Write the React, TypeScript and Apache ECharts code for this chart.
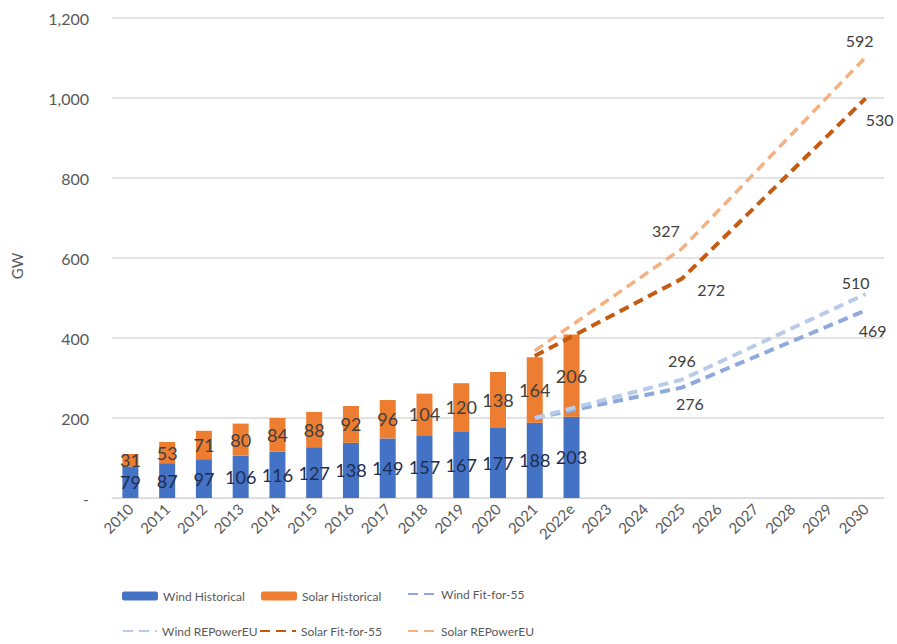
import React, { useEffect, useRef } from "react";
import * as echarts from "echarts";

const years = [
  "2010", "2011", "2012", "2013", "2014", "2015", "2016", "2017", "2018", "2019",
  "2020", "2021", "2022e", "2023", "2024", "2025", "2026", "2027", "2028", "2029", "2030",
];
const windHistorical = [79, 87, 97, 106, 116, 127, 138, 149, 157, 167, 177, 188, 203];
const solarHistorical = [31, 53, 71, 80, 84, 88, 92, 96, 104, 120, 138, 164, 206];

const scenarioYears = ["2021", "2025", "2030"];
const windFit55 = [200, 276, 469];
const windREPowerEU = [200, 296, 510];
const solarFit55 = [155, 272, 530];
const solarREPowerEU = [168, 327, 592];

const yTicks = [0, 200, 400, 600, 800, 1000, 1200];

const FONT = "Lato, 'Open Sans', sans-serif";
const C_WIND = "#4472c4";
const C_SOLAR = "#ed7d31";
const C_WIND_FIT = "#8eaadc";
const C_WIND_REP = "#b8cbe9";
const C_SOLAR_FIT = "#c55a11";
const C_SOLAR_REP = "#f4b183";

type LabelCfg = Record<string, { position: string; offset: [number, number] }>;

function lineData(vals: number[], labels: LabelCfg) {
  return years.map((y) => {
    const i = scenarioYears.indexOf(y);
    if (i < 0) return null;
    const v = vals[i];
    const lab = labels[y];
    if (!lab) return v;
    return {
      value: v,
      symbol: "circle",
      symbolSize: 1,
      itemStyle: { opacity: 0 },
      label: {
        show: true,
        position: lab.position,
        offset: lab.offset,
        color: "#404040",
        fontSize: 16,
        fontFamily: FONT,
        opacity: 1,
      },
    };
  });
}

function lineSeries(name: string, stack: string, color: string, vals: number[], labels: LabelCfg, width: number) {
  return {
    name,
    type: "line",
    stack,
    symbol: "none",
    connectNulls: true,
    data: lineData(vals, labels),
    itemStyle: { color },
    lineStyle: { color, width, type: [10, 6] },
    z: 3,
  };
}

export default function App() {
  const ref = useRef<HTMLDivElement>(null);
  useEffect(() => {
    if (!ref.current) return;
    const chart = echarts.init(ref.current, undefined, { renderer: "svg" });
    const legendText = { color: "#595959", fontSize: 12, fontFamily: FONT };
    const mkLegend = (name: string, left: number, top: number, w: number, h: number, isLine: boolean) => ({
      data: [name],
      left,
      top,
      itemWidth: w,
      itemHeight: h,
      selectedMode: false,
      textStyle: legendText,
      padding: 0,
      ...(isLine ? { itemStyle: { opacity: 0 } } : {}),
    });
    chart.setOption({
      animation: false,
      backgroundColor: "#ffffff",
      textStyle: { fontFamily: FONT },
      grid: { left: 112, right: 13, top: 18, bottom: 146, containLabel: false },
      legend: [
        mkLegend("Wind Historical", 122, 590, 36, 9, false),
        mkLegend("Solar Historical", 261, 590, 36, 9, false),
        mkLegend("Wind Fit-for-55", 407, 588, 28, 14, true),
        mkLegend("Wind REPowerEU", 122, 625, 34, 14, true),
        mkLegend("Solar Fit-for-55", 259, 625, 36, 14, true),
        mkLegend("Solar REPowerEU", 407, 625, 28, 14, true),
      ],
      xAxis: {
        type: "category",
        data: years,
        boundaryGap: true,
        axisTick: { show: false },
        axisLine: { show: true, lineStyle: { color: "#d9d9d9", width: 1 } },
        axisLabel: {
          rotate: 45,
          interval: 0,
          color: "#595959",
          fontSize: 15,
          fontFamily: FONT,
          margin: 8,
        },
      },
      yAxis: {
        type: "value",
        min: yTicks[0],
        max: yTicks[yTicks.length - 1],
        interval: yTicks[1] - yTicks[0],
        name: "GW",
        nameLocation: "middle",
        nameGap: 88,
        nameRotate: 90,
        nameTextStyle: { color: "#595959", fontSize: 15, fontFamily: FONT, padding: [0, 0, 0, -16] },
        axisLine: { show: false },
        axisTick: { show: false },
        axisLabel: {
          color: "#595959",
          fontSize: 16,
          fontFamily: FONT,
          margin: 23,
          formatter: (v: number) => (v === 0 ? "-" : v.toLocaleString("en-US")),
        },
        splitLine: { lineStyle: { color: "#d9d9d9", width: 1.5 } },
      },
      series: [
        {
          name: "Wind Historical",
          type: "bar",
          stack: "hist",
          barWidth: 16,
          data: windHistorical,
          itemStyle: { color: C_WIND },
          label: { show: true, position: "inside", color: "#1f2d50", fontSize: 18, fontFamily: FONT },
        },
        {
          name: "Solar Historical",
          type: "bar",
          stack: "hist",
          barWidth: 16,
          data: solarHistorical,
          itemStyle: { color: C_SOLAR },
          label: { show: true, position: "inside", color: "#404040", fontSize: 18, fontFamily: FONT },
        },
        lineSeries("Wind Fit-for-55", "fit", C_WIND_FIT, windFit55, {
          "2025": { position: "bottom", offset: [8, 2] },
          "2030": { position: "bottom", offset: [7, 7] },
        }, 4),
        lineSeries("Wind REPowerEU", "rep", C_WIND_REP, windREPowerEU, {
          "2025": { position: "top", offset: [0, -6] },
          "2030": { position: "top", offset: [-10, 2] },
        }, 4),
        lineSeries("Solar Fit-for-55", "fit", C_SOLAR_FIT, solarFit55, {
          "2025": { position: "right", offset: [10, 11] },
          "2030": { position: "bottom", offset: [14, 8] },
        }, 4),
        lineSeries("Solar REPowerEU", "rep", C_SOLAR_REP, solarREPowerEU, {
          "2025": { position: "top", offset: [-16, -5] },
          "2030": { position: "top", offset: [-6, -3] },
        }, 3.5),
      ],
    });
    return () => chart.dispose();
  }, []);
  return <div ref={ref} style={{ width: 897, height: 644, position: "absolute", left: 0, top: 0 }} />;
}
